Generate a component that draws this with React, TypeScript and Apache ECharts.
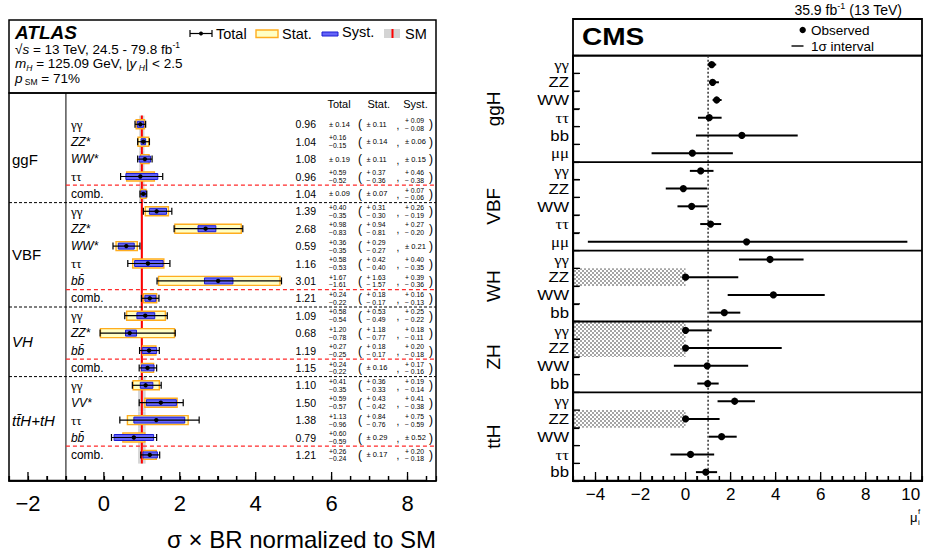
import React, { useEffect, useRef } from "react";
import * as echarts from "echarts";

const SANS = "'Liberation Sans', Arial, Helvetica, sans-serif";
const SERIF = "'Liberation Serif', 'Times New Roman', serif";

// ================= ATLAS data =================
const atlasGroups = ["ggF", "VBF", "VH", "tt\u0304H+tH"];
const atlasGroupFirst = [0, 5, 11, 15];
const atlasGroupLast = [4, 10, 14, 19];
const atlasLabels = [
  "γγ", "ZZ*", "WW*", "ττ", "comb.",
  "γγ", "ZZ*", "WW*", "ττ", "bb\u0304", "comb.",
  "γγ", "ZZ*", "bb\u0304", "comb.",
  "γγ", "VV*", "ττ", "bb\u0304", "comb.",
];
const atlasValue = [0.96, 1.04, 1.08, 0.96, 1.04, 1.39, 2.68, 0.59, 1.16, 3.01, 1.21, 1.09, 0.68, 1.19, 1.15, 1.10, 1.50, 1.38, 0.79, 1.21];
const atlasTotUp = [0.14, 0.16, 0.19, 0.59, 0.09, 0.40, 0.98, 0.36, 0.58, 1.67, 0.24, 0.58, 1.20, 0.27, 0.24, 0.41, 0.59, 1.13, 0.60, 0.26];
const atlasTotDn = [0.14, 0.15, 0.19, 0.52, 0.09, 0.35, 0.83, 0.35, 0.53, 1.61, 0.22, 0.54, 0.78, 0.25, 0.22, 0.35, 0.57, 0.96, 0.59, 0.24];
const atlasStatUp = [0.11, 0.14, 0.11, 0.37, 0.07, 0.31, 0.94, 0.29, 0.42, 1.63, 0.18, 0.53, 1.18, 0.18, 0.16, 0.36, 0.43, 0.84, 0.29, 0.17];
const atlasStatDn = [0.11, 0.14, 0.11, 0.36, 0.07, 0.30, 0.81, 0.27, 0.40, 1.57, 0.17, 0.49, 0.77, 0.17, 0.16, 0.33, 0.42, 0.76, 0.29, 0.17];
const atlasSystUp = [0.09, 0.06, 0.15, 0.46, 0.07, 0.26, 0.27, 0.21, 0.40, 0.39, 0.16, 0.25, 0.18, 0.20, 0.17, 0.19, 0.41, 0.75, 0.52, 0.20];
const atlasSystDn = [0.08, 0.06, 0.15, 0.38, 0.06, 0.19, 0.20, 0.21, 0.35, 0.36, 0.13, 0.22, 0.11, 0.18, 0.16, 0.14, 0.38, 0.59, 0.52, 0.18];
const atlasSmUnc = [0.07, 0.07, 0.07, 0.07, 0.07, 0.03, 0.03, 0.03, 0.03, 0.03, 0.03, 0.03, 0.03, 0.03, 0.03, 0.1, 0.1, 0.1, 0.1, 0.1];
const atlasSM = 1;
const atlasXMin = -2.5;
const atlasXMax = 8.75;
const atlasTickStep = 0.5;
const atlasTickLabels = [-2, 0, 2, 4, 6, 8];

// ================= CMS data =================
const cmsGroups = ["ggH", "VBF", "WH", "ZH", "ttH"];
const cmsGroupFirst = [0, 6, 11, 15, 19];
const cmsGroupLast = [5, 10, 14, 18, 23];
const cmsLabels = [
  "γγ", "ZZ", "WW", "ττ", "bb", "μμ",
  "γγ", "ZZ", "WW", "ττ", "μμ",
  "γγ", "ZZ", "WW", "bb",
  "γγ", "ZZ", "WW", "bb",
  "γγ", "ZZ", "WW", "ττ", "bb",
];
const cmsMu = [1.16, 1.20, 1.38, 1.05, 2.50, 0.30, 0.67, -0.10, 0.27, 1.11, 2.71, 3.75, 0.0, 3.90, 1.72, 0.0, 0.0, 0.96, 0.98, 2.18, 0.0, 1.60, 0.22, 0.90];
const cmsLo = [0.99, 1.04, 1.20, 0.55, 0.46, -1.51, 0.19, -0.88, -0.36, 0.65, -4.34, 2.37, 0.0, 1.87, 1.05, 0.0, 0.0, -0.52, 0.52, 1.42, 0.0, 1.04, -0.67, 0.46];
const cmsHi = [1.36, 1.48, 1.60, 1.60, 4.98, 2.10, 1.24, 0.95, 0.98, 1.58, 9.85, 5.24, 2.34, 6.18, 2.43, 1.16, 4.27, 2.78, 1.47, 3.08, 1.51, 2.27, 1.27, 1.40];
const cmsExcluded = [12, 15, 16, 20];
const cmsSM = 1;
const cmsXMin = -5;
const cmsXMax = 10.5;
const cmsTickStep = 0.5;
const cmsTickLabels = [-4, -2, 0, 2, 4, 6, 8, 10];

// ================= helpers =================
function T(x: number, y: number, text: string, o: any = {}) {
  const { align = "left", verticalAlign = "middle", rotation, scaleX, ...rest } = o;
  const el: any = {
    type: "text",
    x,
    y,
    silent: true,
    style: {
      text,
      fill: "#000",
      fontFamily: SANS,
      fontSize: 12,
      ...rest,
      align,
      verticalAlign,
      textAlign: align,
      textVerticalAlign: verticalAlign,
    },
  };
  if (rotation) el.rotation = rotation;
  if (scaleX) el.scaleX = scaleX;
  return el;
}

function L(x1: number, y1: number, x2: number, y2: number, stroke: string, lineWidth: number, lineDash?: number[]) {
  const style: any = { stroke, lineWidth };
  if (lineDash) style.lineDash = lineDash;
  return { type: "line", silent: true, shape: { x1, y1, x2, y2 }, style };
}

const minus = "\u2212";
const fmtTick = (list: number[]) => (v: number) => {
  const r = Math.round(v * 1000) / 1000;
  if (!list.includes(r)) return "";
  return r < 0 ? minus + Math.abs(r) : String(r);
};

function tickValues(min: number, max: number, step: number) {
  const out: number[] = [];
  for (let k = 0; k < 200; k++) {
    const v = Math.round((min + k * step) * 1000) / 1000;
    if (v > max + 1e-9) break;
    out.push(v);
  }
  return out;
}

// One polyline "comb" for a whole set of ticks along the bottom edge
function tickComb(X: (v: number) => number, bot: number, ticks: number[], majors: number[], majLen: number, minLen: number) {
  const pts: number[][] = [];
  ticks.forEach((v) => {
    const x = X(v);
    const len = majors.includes(v) ? majLen : minLen;
    pts.push([x, bot - 0.5], [x, bot - len], [x, bot - 0.5]);
  });
  return { type: "polyline", silent: true, z2: 50, shape: { points: pts }, style: { stroke: "#000", lineWidth: 1.3, fill: null } };
}

function errText(x: number, y: number, up: number, dn: number, spaced: boolean) {
  if (up === dn) return [T(x, y, "± " + up.toFixed(2), { fontSize: 7.5 })];
  return [
    T(x, y - 3.9, (spaced ? "+ " : "+") + up.toFixed(2), { fontSize: 6.8 }),
    T(x, y + 3.9, (spaced ? minus + " " : minus) + dn.toFixed(2), { fontSize: 6.8 }),
  ];
}

function atlasLabel(x: number, y: number, s: string) {
  if (/[γτ]/.test(s)) return T(x, y, s, { fontFamily: SERIF, fontSize: 13 });
  if (s === "comb.") return T(x, y, s, { fontSize: 12 });
  return T(x, y, s, { fontSize: 12, fontStyle: "italic" });
}

function headerGraphic() {
  const hdrRich: any = {
    r: { fontFamily: SANS, fontSize: 13.5, lineHeight: 17 },
    i: { fontFamily: SANS, fontSize: 13.5, fontStyle: "italic", lineHeight: 17 },
    sup: { fontFamily: SANS, fontSize: 8.5, verticalAlign: "top", lineHeight: 9 },
    sub: { fontFamily: SANS, fontSize: 8.5, verticalAlign: "bottom", lineHeight: 9 },
    subi: { fontFamily: SANS, fontSize: 8.5, fontStyle: "italic", verticalAlign: "bottom", lineHeight: 9 },
  };
  const cmsRich: any = {
    r: { fontFamily: SANS, fontSize: 14, lineHeight: 17 },
    sup: { fontFamily: SANS, fontSize: 9, verticalAlign: "top", lineHeight: 9 },
  };
  return [
    // ATLAS header frame
    { type: "rect", silent: true, shape: { x: 9, y: 20, width: 427, height: 73 }, style: { fill: "none", stroke: "#000", lineWidth: 1.5 } },
    T(15, 32, "ATLAS", { fontSize: 19, fontWeight: "bold", fontStyle: "italic" }),
    T(15, 49, "{r|√}{i|s}{r| = 13 TeV, 24.5 - 79.8 fb}{sup|-1}", { rich: hdrRich }),
    T(15, 63.5, "{i|m}{subi|H}{r| = 125.09 GeV, |}{i|y}{subi| H}{r|| < 2.5}", { rich: hdrRich }),
    T(15, 78, "{i|p}{sub| SM}{r| = 71%}", { rich: hdrRich }),
    // legend: Total
    L(190, 33.5, 212, 33.5, "#000", 1.2),
    L(190, 30, 190, 37, "#000", 1.2),
    L(212, 30, 212, 37, "#000", 1.2),
    { type: "circle", silent: true, shape: { cx: 201, cy: 33.5, r: 2 }, style: { fill: "#000" } },
    T(216, 34, "Total", { fontSize: 14.5 }),
    // Stat
    { type: "rect", silent: true, shape: { x: 256, y: 30, width: 22, height: 7.5 }, style: { fill: "#ffffc4", stroke: "#ffad1f", lineWidth: 1.4 } },
    T(282, 34, "Stat.", { fontSize: 14.5 }),
    // Syst
    { type: "rect", silent: true, shape: { x: 322, y: 32, width: 16, height: 4 }, style: { fill: "#6464f8", stroke: "#1c1cd2", lineWidth: 1 } },
    T(342, 32, "Syst.", { fontSize: 14.5 }),
    // SM
    { type: "rect", silent: true, shape: { x: 384, y: 29, width: 16, height: 9 }, style: { fill: "#d4d4d4" } },
    L(392.5, 29, 392.5, 38, "#ff0000", 2),
    T(405, 34, "SM", { fontSize: 14.5 }),
    // column headers
    T(339, 104, "Total", { align: "center", fontSize: 11 }),
    T(378.7, 104, "Stat.", { align: "center", fontSize: 11 }),
    T(415.5, 104, "Syst.", { align: "center", fontSize: 11 }),
    // ATLAS axis title
    T(436, 539, "σ × BR normalized to SM", { align: "right", fontSize: 24 }),

    // CMS header frame
    { type: "rect", silent: true, shape: { x: 573, y: 19, width: 349, height: 36.7 }, style: { fill: "none", stroke: "#000", lineWidth: 1.8 } },
    T(902, 10, "{r|35.9 fb}{sup|-1}{r| (13 TeV)}", { align: "right", rich: cmsRich }),
    T(582, 37, "CMS", { fontSize: 23, fontWeight: "bold", scaleX: 1.22 }),
    { type: "circle", silent: true, shape: { cx: 802.7, cy: 30, r: 3.2 }, style: { fill: "#000" } },
    T(811, 30, "Observed", { fontSize: 13.5 }),
    L(791.5, 46, 803.5, 46, "#000", 1.4),
    T(811, 46, "1σ interval", { fontSize: 13.5 }),
    // CMS axis title
    T(910, 517, "μ", { fontSize: 13 }),
    T(918, 511, "f", { fontSize: 8 }),
    T(918, 522, "i", { fontSize: 8 }),
  ];
}

function buildOption(hatch: any) {
  const atlasTicks = tickValues(atlasXMin, atlasXMax, atlasTickStep);
  const cmsTicks = tickValues(cmsXMin, cmsXMax, cmsTickStep);
  return {
    animation: false,
    backgroundColor: "#fff",
    graphic: headerGraphic(),
    grid: [
      { left: 9, top: 93, width: 427, height: 388, show: true, borderColor: "#000", borderWidth: 1.5, backgroundColor: "transparent" },
      { left: 573, top: 55.7, width: 349, height: 425.3, show: true, borderColor: "#000", borderWidth: 1.8, backgroundColor: "transparent" },
    ],
    xAxis: [
      {
        gridIndex: 0, type: "value", position: "bottom", min: atlasXMin, max: atlasXMax, interval: atlasTickStep,
        axisLine: { show: true, onZero: false, lineStyle: { color: "#000", width: 1.5 } }, splitLine: { show: false },
        axisTick: { show: true, inside: true, length: 5, lineStyle: { color: "#000", width: 1.2 } },
        axisLabel: { formatter: fmtTick(atlasTickLabels), fontSize: 22, color: "#000", fontFamily: SANS, margin: 11 },
      },
      {
        gridIndex: 1, type: "value", position: "bottom", min: cmsXMin, max: cmsXMax, interval: cmsTickStep,
        axisLine: { show: true, onZero: false, lineStyle: { color: "#000", width: 1.8 } }, splitLine: { show: false },
        axisTick: { show: true, inside: true, length: 5, lineStyle: { color: "#000", width: 1.2 } },
        axisLabel: { formatter: fmtTick(cmsTickLabels), fontSize: 17, color: "#000", fontFamily: SANS, margin: 5 },
      },
    ],
    yAxis: [
      { gridIndex: 0, type: "value", min: -1.8, max: 20.5, inverse: true, show: false },
      {
        gridIndex: 1, type: "category", inverse: true,
        data: cmsLabels.map((_, i) => "r" + i),
        axisLine: { show: true, onZero: false, lineStyle: { color: "#000", width: 1.8 } }, splitLine: { show: false },
        axisLabel: { show: false },
        axisTick: { show: true, inside: true, length: 6, lineStyle: { color: "#000", width: 1.2 } },
      },
    ],
    series: [
      // ---- ATLAS SM theory band ----
      {
        type: "custom", xAxisIndex: 0, yAxisIndex: 0, silent: true,
        data: atlasSmUnc.map((u, i) => [atlasSM, i, u]),
        renderItem: (params: any, api: any) => {
          const i = params.dataIndex;
          const u = atlasSmUnc[i];
          const x0 = api.coord([atlasSM - u, i])[0];
          const x1 = api.coord([atlasSM + u, i])[0];
          const y0 = api.coord([atlasSM, i - 0.5])[1];
          const y1 = api.coord([atlasSM, i + 0.5])[1];
          return { type: "rect", shape: { x: x0, y: y0, width: x1 - x0, height: y1 - y0 }, style: { fill: "#d6d6d6" } };
        },
      },
      // ---- ATLAS structure lines + ticks ----
      {
        type: "custom", xAxisIndex: 0, yAxisIndex: 0, silent: true,
        data: [[atlasSM, 0]],
        renderItem: (params: any, api: any) => {
          const cs = params.coordSys;
          const Lx = cs.x, Rr = cs.x + cs.width, top = cs.y, bot = cs.y + cs.height;
          const X = (v: number) => api.coord([v, 0])[0];
          const Y = (r: number) => api.coord([0, r])[1];
          const ch: any[] = [];
          ch.push(tickComb(X, bot, atlasTicks, atlasTickLabels, 9, 5));
          ch.push(L(X(-1), top, X(-1), bot, "#000", 1));
          ch.push(L(X(atlasSM), Y(-0.5), X(atlasSM), Y(atlasValue.length - 0.5), "#ff0000", 2));
          atlasGroups.forEach((g, k) => {
            const last = atlasGroupLast[k];
            ch.push(L(X(-1), Y(last - 0.5), Rr, Y(last - 0.5), "#ff2a2a", 1.2, [4, 3]));
            if (k < atlasGroups.length - 1) ch.push(L(Lx, Y(last + 0.5), Rr, Y(last + 0.5), "#000", 1, [3, 2]));
            const yc = (Y(atlasGroupFirst[k]) + Y(last)) / 2;
            const italic = k >= 2;
            ch.push(T(Lx + 3, yc, g, { fontSize: 15, fontStyle: italic ? "italic" : "normal" }));
          });
          return { type: "group", children: ch };
        },
      },
      // ---- ATLAS rows ----
      {
        type: "custom", xAxisIndex: 0, yAxisIndex: 0, silent: true,
        data: atlasValue.map((v, i) => [v, i]),
        renderItem: (params: any, api: any) => {
          const i = params.dataIndex;
          const cs = params.coordSys;
          const Rr = cs.x + cs.width;
          const v = atlasValue[i];
          const X = (x: number) => api.coord([x, i])[0];
          const y = api.coord([v, i])[1];
          const ch: any[] = [];
          const s0 = X(v - atlasStatDn[i]), s1 = X(v + atlasStatUp[i]);
          ch.push({ type: "rect", shape: { x: s0, y: y - 4.5, width: s1 - s0, height: 9 }, style: { fill: "#ffffc4", stroke: "#ffad1f", lineWidth: 1.4 } });
          const b0 = X(v - atlasSystDn[i]), b1 = X(v + atlasSystUp[i]);
          ch.push({ type: "rect", shape: { x: b0, y: y - 3, width: b1 - b0, height: 6 }, style: { fill: "#6464f8", stroke: "#1c1cd2", lineWidth: 1 } });
          const t0 = X(v - atlasTotDn[i]), t1 = X(v + atlasTotUp[i]);
          ch.push(L(t0, y, t1, y, "#000", 1.2));
          ch.push(L(t0, y - 3.5, t0, y + 3.5, "#000", 1.2));
          ch.push(L(t1, y - 3.5, t1, y + 3.5, "#000", 1.2));
          ch.push({ type: "circle", shape: { cx: X(v), cy: y, r: 2.2 }, style: { fill: "#000" } });
          ch.push(atlasLabel(X(-1) + 5, y, atlasLabels[i]));
          ch.push(T(Rr - 120, y, v.toFixed(2), { align: "right", fontSize: 10.5 }));
          ch.push(...errText(Rr - 107, y, atlasTotUp[i], atlasTotDn[i], false));
          ch.push(T(Rr - 76, y, "(", { align: "center", fontSize: 12 }));
          ch.push(...errText(Rr - 69.5, y, atlasStatUp[i], atlasStatDn[i], true));
          ch.push(T(Rr - 38, y + 1, ",", { align: "center", fontSize: 10 }));
          ch.push(...errText(Rr - 31, y, atlasSystUp[i], atlasSystDn[i], true));
          ch.push(T(Rr - 5, y, ")", { align: "center", fontSize: 12 }));
          return { type: "group", children: ch };
        },
      },
      // ---- CMS excluded (mu < 0) hatched regions ----
      {
        type: "custom", xAxisIndex: 1, yAxisIndex: 1, silent: true,
        data: cmsExcluded.map((r) => [0, r]),
        renderItem: (params: any, api: any) => {
          const r = cmsExcluded[params.dataIndex];
          const cs = params.coordSys;
          const x1 = api.coord([0, r])[0];
          const yc = api.coord([0, r])[1];
          const h = cs.height / cmsLabels.length;
          return { type: "rect", shape: { x: cs.x, y: yc - h / 2, width: x1 - cs.x, height: h }, style: { fill: hatch } };
        },
      },
      // ---- CMS structure + ticks ----
      {
        type: "custom", xAxisIndex: 1, yAxisIndex: 1, silent: true,
        data: [[cmsSM, 0]],
        renderItem: (params: any, api: any) => {
          const cs = params.coordSys;
          const Lx = cs.x, Rr = cs.x + cs.width, top = cs.y, bot = cs.y + cs.height;
          const X = (v: number) => api.coord([v, 0])[0];
          const Y = (r: number) => api.coord([0, r])[1];
          const ch: any[] = [];
          ch.push(tickComb(X, bot, cmsTicks, cmsTickLabels, 9, 5));
          const rowPts: number[][] = [];
          for (let r = 0; r < cmsLabels.length - 1; r++) {
            const yb = (Y(r) + Y(r + 1)) / 2;
            rowPts.push([Lx + 0.5, yb], [Lx + 7, yb], [Lx + 0.5, yb]);
          }
          ch.push({ type: "polyline", silent: true, z2: 50, shape: { points: rowPts }, style: { stroke: "#000", lineWidth: 1.3, fill: null } });
          ch.push(L(X(cmsSM), top, X(cmsSM), bot, "#333", 1.5, [2, 2]));
          cmsGroups.forEach((g, k) => {
            const first = cmsGroupFirst[k], last = cmsGroupLast[k];
            if (k > 0) {
              const ys = (Y(first) + Y(first - 1)) / 2;
              ch.push(L(Lx, ys, Rr, ys, "#000", 1.8));
            }
            const yc = (Y(first) + Y(last)) / 2;
            ch.push(T(493, yc, g, { align: "center", fontSize: 19, rotation: Math.PI / 2 }));
          });
          cmsLabels.forEach((s, i) => {
            const greek = /[γτμ]/.test(s);
            ch.push(T(Lx - 4, Y(i), s, { align: "right", fontSize: 15, fontFamily: greek ? SERIF : SANS, scaleX: 1.12 }));
          });
          return { type: "group", children: ch };
        },
      },
      // ---- CMS rows ----
      {
        type: "custom", xAxisIndex: 1, yAxisIndex: 1, silent: true,
        data: cmsMu.map((m, i) => [m, i]),
        renderItem: (params: any, api: any) => {
          const i = params.dataIndex;
          const X = (x: number) => api.coord([x, i])[0];
          const y = api.coord([cmsMu[i], i])[1];
          return {
            type: "group",
            children: [
              L(X(cmsLo[i]), y, X(cmsHi[i]), y, "#000", 2),
              { type: "circle", shape: { cx: X(cmsMu[i]), cy: y, r: 3.6 }, style: { fill: "#000" } },
            ],
          };
        },
      },
    ],
  };
}

export default function App() {
  const ref = useRef<HTMLDivElement>(null);
  useEffect(() => {
    if (!ref.current) return;
    let hatch: any = "#c4c4c4";
    try {
      const c = document.createElement("canvas");
      c.width = 4;
      c.height = 4;
      const ctx = c.getContext("2d");
      if (ctx) {
        ctx.fillStyle = "#ffffff";
        ctx.fillRect(0, 0, 4, 4);
        ctx.fillStyle = "#a4a4a4";
        ctx.fillRect(0, 0, 2, 2);
        ctx.fillRect(2, 2, 2, 2);
        hatch = { image: c.toDataURL(), repeat: "repeat", imageWidth: 4, imageHeight: 4 };
      }
    } catch (e) {
      hatch = "#c4c4c4";
    }
    const chart = echarts.init(ref.current, null, { renderer: "svg" });
    chart.setOption(buildOption(hatch) as any);
    return () => chart.dispose();
  }, []);
  return <div ref={ref} style={{ position: "absolute", left: 0, top: 0, width: 925, height: 556 }} />;
}
